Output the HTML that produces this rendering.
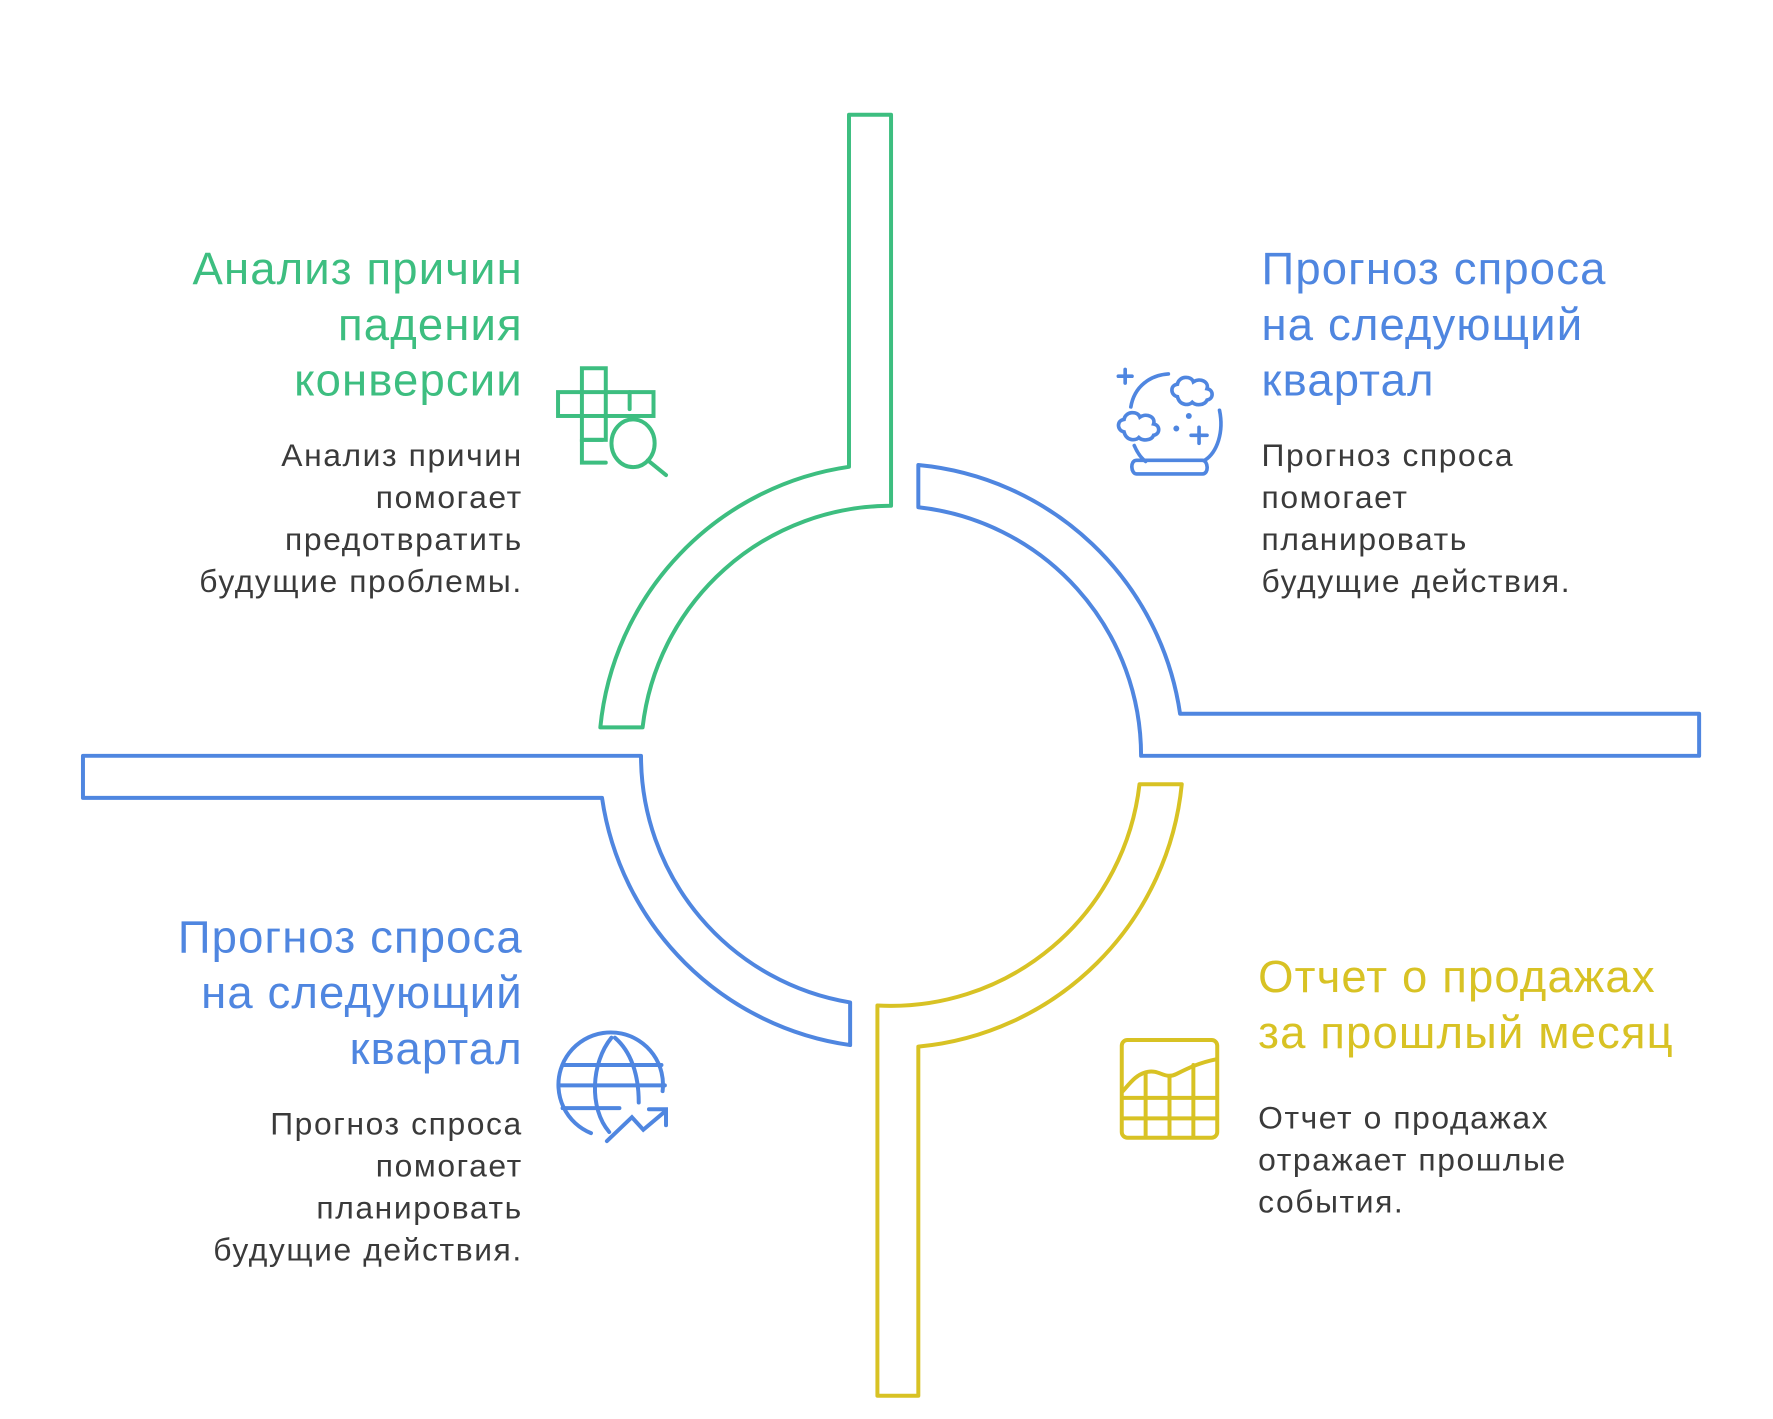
<!DOCTYPE html>
<html><head><meta charset="utf-8"><style>
html,body{margin:0;padding:0;background:#fff;width:1773px;height:1419px;overflow:hidden}
svg{display:block}
text{font-family:"Liberation Sans","DejaVu Sans",sans-serif}
.t{font-size:40px;letter-spacing:1px}
.b{font-size:28px;letter-spacing:1.4px;fill:#3a3a3a}
</style></head><body>
<svg width="1773" height="1419" viewBox="0 0 1560 1248.5" preserveAspectRatio="none" xmlns="http://www.w3.org/2000/svg">
<g fill="none" stroke-width="3.5" stroke-linejoin="round">
<path stroke="#3DBE80" d="M747,101 L784,101 L784,445 A220,220 0 0 0 565.4,640 L528.2,640 A257,257 0 0 1 747,410.7 Z"/>
<path stroke="#4F86E0" d="M808,446.3 A220,220 0 0 1 1004,665 L1495,665 L1495,628 L1038.3,628 A257,257 0 0 0 808,409.1 Z"/>
<path stroke="#D8C224" d="M1002.6,690 L1039.8,690 A257,257 0 0 1 808,920.9 L808,1228 L772,1228 L772,884.7 A220,220 0 0 0 1002.6,690 Z"/>
<path stroke="#4F86E0" d="M73,665 L564,665 A220,220 0 0 0 748,882 L748,919.5 A257,257 0 0 1 529.7,702 L73,702 Z"/>
</g>

<g fill="none" stroke="#3DBE80" stroke-width="3.5" stroke-linecap="round">
<rect x="512" y="324" width="21" height="63"/>
<rect x="491" y="345" width="84" height="21"/>
<line x1="554" y1="345" x2="554" y2="360"/>
<path d="M512,387 L512,407 L533,407"/>
<line x1="512" y1="387" x2="530" y2="387"/>
<ellipse cx="557" cy="390" rx="19" ry="21"/>
<line x1="570" y1="405" x2="586" y2="418"/>
</g>

<g fill="none" stroke="#4F86E0" stroke-width="3.2" stroke-linecap="round">
<path d="M984,331 h12 M990,325 v12"/>
<path d="M995,358 C998,340 1012,330 1028,329"/>
<path d="M1073,361 C1077,380 1071,398 1060,405"/>
<path d="M998,392 C1001,399 1004,403 1008,406"/>
<path d="M1036,349 c-6,-1 -7,-10 0,-11 c1,-7 12,-8 14,-2 c6,-4 14,0 12,6 c6,1 6,9 0,10 c-2,5 -10,5 -13,2 c-3,3 -11,3 -13,-5 z"/>
<path d="M989,380 c-6,-1 -7,-10 0,-11 c1,-7 12,-8 14,-2 c6,-4 14,0 12,6 c6,1 6,9 0,10 c-2,5 -10,5 -13,2 c-3,3 -11,3 -13,-5 z"/>
<path d="M1048,383 h14 M1055,376 v14"/>
<circle cx="1046" cy="366" r="1" fill="#4F86E0"/>
<circle cx="1035" cy="377" r="1" fill="#4F86E0"/>
<path d="M1000,405 h58 c5,0 6,12 0,12 h-58 c-5,0 -6,-12 0,-12 z"/>
</g>

<g fill="none" stroke="#4F86E0" stroke-width="3.5" stroke-linecap="round">
<path d="M583,960 A46,46 0 1 0 520,997"/>
<path d="M538,913 C520,935 518,975 536,996"/>
<path d="M541,913 C555,925 562,945 562,970"/>
<line x1="495" y1="937" x2="582" y2="937"/>
<line x1="492" y1="955" x2="585" y2="955"/>
<line x1="495" y1="975" x2="545" y2="975"/>
<path d="M534,1004 L556,983 L566,994 L585,978 M571,976 L586,976 L586,990"/>
</g>

<g fill="none" stroke="#D8C224" stroke-width="3.5" stroke-linecap="round" stroke-linejoin="round">
<rect x="987" y="915" width="84" height="86" rx="5"/>
<path d="M988,960 C995,952 1000,945 1010,943 C1020,941 1025,950 1035,945 C1045,940 1055,935 1070,932"/>
<line x1="988" y1="966" x2="1070" y2="966"/>
<line x1="988" y1="984" x2="1070" y2="984"/>
<line x1="1008" y1="945" x2="1008" y2="1000"/>
<line x1="1029" y1="947" x2="1029" y2="1000"/>
<line x1="1050" y1="937" x2="1050" y2="1000"/>
</g>

<g text-anchor="end">
<text class="t" fill="#3DBE80" x="460" y="250">Анализ причин</text>
<text class="t" fill="#3DBE80" x="460" y="299">падения</text>
<text class="t" fill="#3DBE80" x="460" y="348">конверсии</text>
<text class="b" x="460" y="410">Анализ причин</text>
<text class="b" x="460" y="447">помогает</text>
<text class="b" x="460" y="484">предотвратить</text>
<text class="b" x="460" y="521">будущие проблемы.</text>

<text class="t" fill="#4F86E0" x="460" y="838">Прогноз спроса</text>
<text class="t" fill="#4F86E0" x="460" y="887">на следующий</text>
<text class="t" fill="#4F86E0" x="460" y="936">квартал</text>
<text class="b" x="460" y="998">Прогноз спроса</text>
<text class="b" x="460" y="1035">помогает</text>
<text class="b" x="460" y="1072">планировать</text>
<text class="b" x="460" y="1109">будущие действия.</text>
</g>
<g>
<text class="t" fill="#4F86E0" x="1110" y="250">Прогноз спроса</text>
<text class="t" fill="#4F86E0" x="1110" y="299">на следующий</text>
<text class="t" fill="#4F86E0" x="1110" y="348">квартал</text>
<text class="b" x="1110" y="410">Прогноз спроса</text>
<text class="b" x="1110" y="447">помогает</text>
<text class="b" x="1110" y="484">планировать</text>
<text class="b" x="1110" y="521">будущие действия.</text>

<text class="t" fill="#D8C224" x="1107" y="873">Отчет о продажах</text>
<text class="t" fill="#D8C224" x="1107" y="922">за прошлый месяц</text>
<text class="b" x="1107" y="993">Отчет о продажах</text>
<text class="b" x="1107" y="1030">отражает прошлые</text>
<text class="b" x="1107" y="1067">события.</text>
</g>
</svg>
</body></html>
